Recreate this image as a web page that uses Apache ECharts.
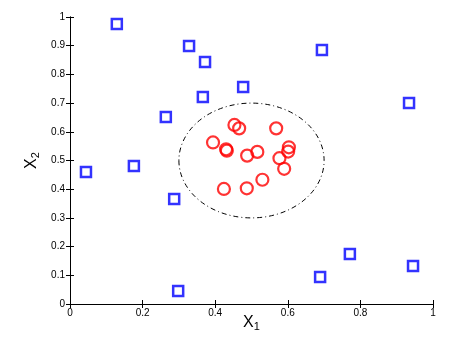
<!DOCTYPE html>
<html><head><meta charset="utf-8">
<script src="https://cdn.jsdelivr.net/npm/echarts@6/dist/echarts.min.js"></script>
<style>html,body{margin:0;padding:0;background:#fff}#c{width:455px;height:341px}</style>
</head><body><div id="c"></div>
<script>
var squareX = [0.129,0.328,0.372,0.366,0.477,0.694,0.934,0.264,0.176,0.044,0.287,0.298,0.689,0.771,0.945];
var squareY = [0.976,0.899,0.843,0.721,0.756,0.885,0.700,0.652,0.481,0.460,0.366,0.045,0.094,0.174,0.132];
var circleX = [0.394,0.453,0.466,0.568,0.430,0.432,0.488,0.516,0.603,0.601,0.577,0.590,0.530,0.424,0.487];
var circleY = [0.563,0.624,0.612,0.612,0.539,0.534,0.517,0.530,0.546,0.531,0.508,0.471,0.433,0.401,0.403];
var boundaryCenter = [0.5, 0.5];
var boundaryRadius = 0.2;
var xTicks = [0, 0.2, 0.4, 0.6, 0.8, 1];
var yTicks = [0, 0.1, 0.2, 0.3, 0.4, 0.5, 0.6, 0.7, 0.8, 0.9, 1];

function zip(a, b) { return a.map(function (v, i) { return [v, b[i]]; }); }
var font = 'Liberation Sans, Arial, sans-serif';
function mkAxis(extra) {
  var base = {
    type: 'value', min: 0, max: 1,
    axisLine: { show: true, lineStyle: { color: '#000', width: 1 } },
    axisTick: { show: true, inside: true, length: 4, lineStyle: { color: '#000' } },
    splitLine: { show: false },
    axisLabel: { show: false }
  };
  for (var k in extra) base[k] = extra[k];
  return base;
}
var chart = echarts.init(document.getElementById('c'), null, { renderer: 'canvas' });
chart.setOption({
  animation: false,
  backgroundColor: '#fff',
  grid: { left: 70, right: 22, top: 17, bottom: 37, containLabel: false, outerBoundsMode: 'none' },
  xAxis: [
    mkAxis({ position: 'bottom', interval: 0.2,
      axisLabel: { show: true, color: '#000', fontSize: 10, fontFamily: font, margin: 4,
        formatter: function (v) { return xTicks.indexOf(Math.round(v*10)/10) >= 0 ? String(Math.round(v*10)/10) : ''; } },
      name: '{x|X}{s|1}', nameLocation: 'middle', nameGap: 10, nameMoveOverlap: false,
      nameTextStyle: { rich: { x: { fontSize: 16, fontFamily: font, color: '#000', lineHeight: 18 },
                               s: { fontSize: 11, fontFamily: font, color: '#000', lineHeight: 18, padding: [8, 0, 0, 0] } } } }),
    mkAxis({ position: 'top', interval: 0.2 })
  ],
  yAxis: [
    mkAxis({ position: 'left', interval: 0.1,
      axisLabel: { show: true, color: '#000', fontSize: 10, fontFamily: font, margin: 5,
        formatter: function (v) { return String(Math.round(v*10)/10); } },
      name: '{x|X}{s|2}', nameLocation: 'middle', nameGap: 29, nameRotate: 90, nameMoveOverlap: false,
      nameTextStyle: { rich: { x: { fontSize: 16, fontFamily: font, color: '#000', lineHeight: 18 },
                               s: { fontSize: 11, fontFamily: font, color: '#000', lineHeight: 18, padding: [8, 0, 0, 0] } } } }),
    mkAxis({ position: 'right', interval: 0.1 })
  ],
  series: [
    {
      type: 'custom', xAxisIndex: 0, yAxisIndex: 0, silent: true, z: 1,
      data: [[boundaryCenter[0], boundaryCenter[1], boundaryRadius]],
      renderItem: function (params, api) {
        var c = api.coord([api.value(0), api.value(1)]);
        var r = api.value(2);
        var sz = api.size([r, r]);
        var rx = sz[0], ry = sz[1];
        var d = 'M ' + (c[0] - rx) + ' ' + c[1] +
          ' A ' + rx + ' ' + ry + ' 0 1 0 ' + (c[0] + rx) + ' ' + c[1] +
          ' A ' + rx + ' ' + ry + ' 0 1 0 ' + (c[0] - rx) + ' ' + c[1] + ' Z';
        return { type: 'path', shape: { pathData: d },
          style: { fill: null, stroke: '#000', lineWidth: 1, lineDash: [5, 3, 1, 3] } };
      }
    },
    {
      type: 'scatter', symbol: 'rect', symbolSize: 10, z: 3,
      data: zip(squareX, squareY),
      itemStyle: { color: 'rgba(255,255,255,0)', borderColor: '#0000ff', borderWidth: 2.5 }
    },
    {
      type: 'scatter', symbol: 'circle', symbolSize: 12, z: 3,
      data: zip(circleX, circleY),
      itemStyle: { color: 'rgba(255,255,255,0)', borderColor: '#ff0000', borderWidth: 2.2 }
    }
  ]
});
</script></body></html>
